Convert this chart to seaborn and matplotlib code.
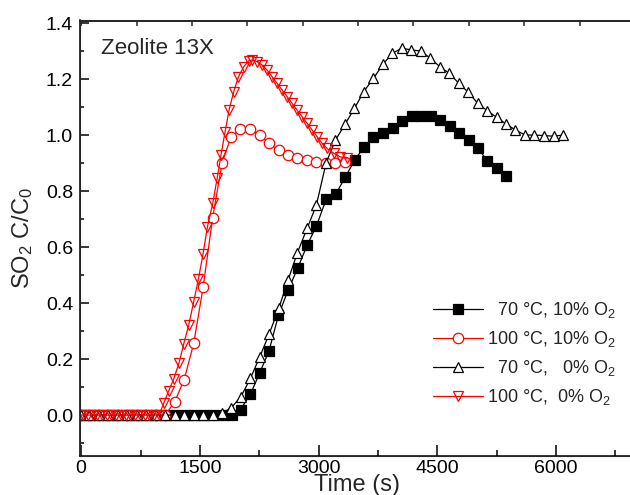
import matplotlib
matplotlib.use("Agg")
import matplotlib.pyplot as plt
import seaborn as sns
from matplotlib.ticker import MultipleLocator, FormatStrFormatter

# ---------------- data ----------------
# 70 °C, 10% O2 (black filled squares)
t_70_10 = [0, 110, 230, 350, 470, 590, 710, 830, 950, 1070, 1190, 1310, 1430, 1550, 1670, 1790,
           1910, 2014, 2140, 2255, 2375, 2493, 2615, 2737, 2855, 2973, 3096, 3218, 3340, 3458,
           3571, 3694, 3816, 3938, 4056, 4178, 4297, 4418, 4537, 4659, 4777, 4899, 5018, 5135,
           5253, 5372]
c_70_10 = [0, 0, 0, 0, 0, 0, 0, 0, 0, 0, 0, 0, 0, 0, 0, 0,
           0.0, 0.02, 0.075, 0.15, 0.23, 0.356, 0.446, 0.525, 0.606, 0.675, 0.77, 0.789, 0.851, 0.911,
           0.956, 0.992, 1.008, 1.026, 1.05, 1.068, 1.069, 1.068, 1.054, 1.032, 1.008, 0.982, 0.952, 0.907,
           0.883, 0.855]

# 100 °C, 10% O2 (red open circles)
t_100_10 = [0, 102, 222, 342, 462, 582, 702, 822, 942, 1062,
            1182, 1300, 1422, 1541, 1662, 1781, 1895, 2013, 2139, 2257, 2375, 2497, 2615, 2733,
            2856, 2973, 3094, 3214, 3330]
c_100_10 = [0, 0, 0, 0, 0, 0, 0, 0, 0, 0,
            0.048, 0.125, 0.256, 0.456, 0.705, 0.901, 0.994, 1.02, 1.02, 1.0, 0.97, 0.946, 0.927, 0.918,
            0.912, 0.903, 0.90, 0.899, 0.905]

# 70 °C, 0% O2 (black open up-triangles)
t_70_0 = [0, 101, 221, 341, 461, 581, 701, 821, 941, 1061, 1181, 1301, 1421, 1541, 1661, 1781,
          1899, 2017, 2139, 2257, 2375, 2497, 2615, 2733, 2856, 2973, 3096, 3214, 3336, 3454,
          3571, 3694, 3812, 3934, 4052, 4174, 4292, 4415, 4532, 4655, 4772, 4895, 5013, 5131,
          5253, 5372, 5489, 5612, 5729, 5852, 5970, 6092]
c_70_0 = [0, 0, 0, 0, 0, 0, 0, 0, 0, 0, 0, 0, 0, 0, 0, 0.006,
          0.027, 0.065, 0.131, 0.208, 0.289, 0.381, 0.482, 0.58, 0.667, 0.75, 0.901, 0.982, 1.039, 1.095,
          1.155, 1.202, 1.252, 1.292, 1.31, 1.304, 1.30, 1.274, 1.244, 1.22, 1.185, 1.152, 1.113, 1.087,
          1.063, 1.039, 1.018, 1.0, 1.0, 0.998, 0.996, 1.0]

# 100 °C, 0% O2 (red open down-triangles)
t_100_0 = [0, 23, 83, 143, 203, 263, 323, 383, 443, 503, 563, 623, 683, 743, 803, 863, 923, 983,
           1043, 1106, 1170, 1237, 1296, 1359, 1422, 1482, 1541, 1596, 1663, 1718, 1768, 1819,
           1869, 1928, 1987, 2055, 2118, 2160, 2224, 2287, 2350, 2413, 2476, 2540, 2603, 2666,
           2729, 2793, 2856, 2919, 2982, 3045, 3109, 3193, 3277, 3361]
c_100_0 = [0, 0, 0, 0, 0, 0, 0, 0, 0, 0, 0, 0, 0, 0, 0, 0, 0, 0,
           0.042, 0.087, 0.129, 0.187, 0.254, 0.321, 0.405, 0.486, 0.577, 0.673, 0.756, 0.845, 0.93, 1.012,
           1.089, 1.155, 1.208, 1.244, 1.265, 1.268, 1.262, 1.25, 1.232, 1.208, 1.185, 1.161, 1.137, 1.113,
           1.089, 1.065, 1.042, 1.018, 0.994, 0.970, 0.952, 0.935, 0.922, 0.917]

labels = ["  70 \u00b0C, 10% O$_2$", "100 \u00b0C, 10% O$_2$",
          "  70 \u00b0C,   0% O$_2$", "100 \u00b0C,  0% O$_2$"]
x_ticks = [0, 1500, 3000, 4500, 6000]
y_ticks = [0.0, 0.2, 0.4, 0.6, 0.8, 1.0, 1.2, 1.4]
top_ticks = [0, 700, 1400, 2100, 2800, 3500, 4200, 4900, 5600, 6300, 7000]

# ---------------- style ----------------
sns.set_style("ticks")
plt.rcParams["font.family"] = ["Liberation Sans", "DejaVu Sans"]
plt.rcParams["mathtext.fontset"] = "custom"
plt.rcParams["mathtext.rm"] = "Liberation Sans"
plt.rcParams["mathtext.it"] = "Liberation Sans:italic"
plt.rcParams["mathtext.bf"] = "Liberation Sans:bold"

fig = plt.figure(figsize=(6.3, 4.95), dpi=100)
ax = fig.add_axes([80 / 630, 1 - 456 / 495, (635 - 80) / 630, (456 - 20.5) / 495])

common = dict(ax=ax, estimator=None, sort=False, linewidth=0.9, markeredgewidth=0.9)
sns.lineplot(x=t_70_10, y=c_70_10, color="black", marker="s", markersize=6.5,
             markerfacecolor="black", markeredgecolor="black", label=labels[0], **common)
sns.lineplot(x=t_100_10, y=c_100_10, color="red", marker="o", markersize=7.5,
             markerfacecolor="white", markeredgecolor="red", label=labels[1], **common)
sns.lineplot(x=t_70_0, y=c_70_0, color="black", marker="^", markersize=7.5,
             markerfacecolor="white", markeredgecolor="black", label=labels[2], **common)
sns.lineplot(x=t_100_0, y=c_100_0, color="red", marker="v", markersize=7.5,
             markerfacecolor="none", markeredgecolor="red", label=labels[3], **common)

ax.set_xlim(-15, 7000)
ax.set_ylim(-0.146, 1.409)
ax.set_xticks(x_ticks)
ax.set_yticks(y_ticks)
ax.xaxis.set_minor_locator(MultipleLocator(750))
ax.yaxis.set_minor_locator(MultipleLocator(0.1))
ax.yaxis.set_major_formatter(FormatStrFormatter("%.1f"))
ax.tick_params(axis="both", which="both", direction="in", labelsize=14, width=1.1, colors="black")
ax.tick_params(axis="x", which="major", length=8, pad=3)
ax.tick_params(axis="x", which="minor", length=4.5)
ax.tick_params(axis="y", which="major", length=6.5, pad=5)
ax.tick_params(axis="y", which="minor", length=3)
for s in ["left", "bottom", "top"]:
    ax.spines[s].set_visible(True)
    ax.spines[s].set_linewidth(1.1)
    ax.spines[s].set_color("black")
ax.spines["right"].set_visible(False)

ax2 = ax.twiny()
ax2.set_xlim(ax.get_xlim())
ax2.set_xticks(top_ticks)
ax2.set_xticklabels([])
ax2.tick_params(axis="x", direction="in", length=3.5, width=1.1, top=True)
ax2.spines["right"].set_visible(False)
ax2.spines["top"].set_linewidth(1.1)

ax.set_xlabel("Time (s)", fontsize=17, labelpad=-2)
ax.set_ylabel("SO$_2$ C/C$_0$", fontsize=17, labelpad=8)

ax.text(0.038, 0.924, "Zeolite 13X", transform=ax.transAxes, fontsize=16, va="baseline", ha="left")

leg = ax.legend(loc="lower right", bbox_to_anchor=(0.978, 0.095), frameon=False, fontsize=13,
                handlelength=2.8, handletextpad=0.2, labelspacing=0.5, borderaxespad=0)

fig.savefig("out.png", dpi=100)
